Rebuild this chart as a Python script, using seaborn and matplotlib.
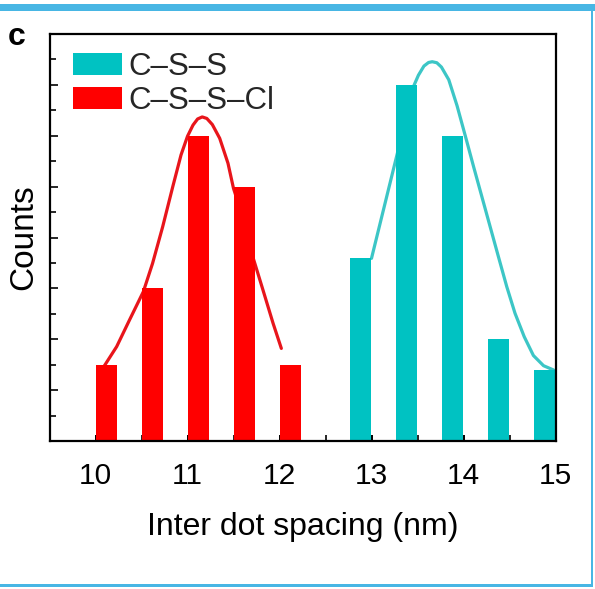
import numpy as np
import matplotlib
matplotlib.use("Agg")
import matplotlib.pyplot as plt
from matplotlib.patches import Patch, Rectangle
from matplotlib.ticker import MultipleLocator
import seaborn as sns

# Histogram bins (nm) and counts for each sample
css_bins = [13.0, 13.5, 14.0, 14.5, 15.0]
css_counts = [7.2, 14.0, 12.0, 4.0, 2.8]
cssc_bins = [10.0, 10.5, 11.0, 11.5, 12.0]
cssc_counts = [3.0, 6.0, 12.0, 10.0, 3.0]

# Fitted distribution curves
css_fit_x = [13.00, 13.29, 13.44, 13.51, 13.57, 13.62, 13.66, 13.71, 13.76, 13.84,
             13.93, 14.02, 14.11, 14.20, 14.29, 14.38, 14.47, 14.56, 14.66, 14.76,
             14.87, 14.98]
css_fit_y = [7.18, 11.44, 13.80, 14.38, 14.74, 14.88, 14.91, 14.87, 14.70, 14.20,
             13.18, 11.99, 10.78, 9.60, 8.42, 7.24, 6.07, 5.02, 4.10, 3.36,
             2.96, 2.79]
cssc_fit_x = [10.09, 10.23, 10.37, 10.52, 10.62, 10.73, 10.84, 10.93, 11.00, 11.06,
              11.11, 11.16, 11.21, 11.27, 11.35, 11.44, 11.50, 11.61, 11.71, 11.82,
              11.93, 12.02]
cssc_fit_y = [2.92, 3.71, 4.76, 5.87, 6.98, 8.42, 10.00, 11.25, 11.98, 12.42,
              12.66, 12.74, 12.68, 12.44, 11.90, 10.92, 9.93, 8.69, 7.24, 5.94,
              4.63, 3.64]

series_labels = ["C\u2013S\u2013S", "C\u2013S\u2013S\u2013Cl"]
xticks = [10, 11, 12, 13, 14, 15]

CYAN_BAR = "#00c2c2"
CYAN_LINE = "#3cc6c6"
RED_BAR = "#ff0000"
RED_LINE = "#e8151b"

sns.set_theme(style="ticks")
plt.rcParams["font.family"] = ["Liberation Sans", "DejaVu Sans"]

fig = plt.figure(figsize=(5.95, 5.89), dpi=100)
ax = fig.add_axes([49.5 / 595, 1 - 441 / 589, 506 / 595, 407 / 589])

bar_w = 0.23
# fitted curves sit behind the bars
sns.lineplot(x=cssc_fit_x, y=cssc_fit_y, color=RED_LINE, lw=2.3, ax=ax, zorder=1)
sns.lineplot(x=css_fit_x, y=css_fit_y, color=CYAN_LINE, lw=2.3, ax=ax, zorder=1)

sns.barplot(x=np.array(cssc_bins) + bar_w / 2, y=cssc_counts, native_scale=True,
            width=bar_w / 0.5, color=RED_BAR, saturation=1, linewidth=0,
            errorbar=None, ax=ax, zorder=2)
sns.barplot(x=np.array(css_bins) - bar_w / 2, y=css_counts, native_scale=True,
            width=bar_w / 0.5, color=CYAN_BAR, saturation=1, linewidth=0,
            errorbar=None, ax=ax, zorder=2)

ax.set_xlim(9.5, 15.0)
ax.set_ylim(0, 16)
ax.set_xticks(xticks)
ax.set_xticklabels([str(t) for t in xticks])
ax.xaxis.set_minor_locator(MultipleLocator(0.5))
ax.yaxis.set_major_locator(MultipleLocator(2))
ax.yaxis.set_minor_locator(MultipleLocator(1))
ax.set_yticklabels([])

for side in ["left", "right", "top", "bottom"]:
    ax.spines[side].set_visible(True)
    ax.spines[side].set_linewidth(1.6)
    ax.spines[side].set_color("black")

ax.tick_params(axis="x", which="major", direction="in", length=4, width=1.4,
               labelsize=21.5, pad=15, colors="black")
ax.tick_params(axis="x", which="minor", direction="in", length=4, width=1.4)
ax.tick_params(axis="y", which="major", direction="in", length=5.5, width=1.4)
ax.tick_params(axis="y", which="minor", direction="in", length=4, width=1.4)

ax.set_xlabel("Inter dot spacing (nm)", fontsize=23, labelpad=16, color="black")
ax.set_ylabel("Counts", fontsize=24, labelpad=4, color="black")

handles = [Patch(facecolor=CYAN_BAR, edgecolor="none"),
           Patch(facecolor=RED_BAR, edgecolor="none")]
ax.legend(handles, series_labels, loc="upper left", bbox_to_anchor=(0.047, 0.957),
          frameon=False, fontsize=22.5, handlelength=1.55, handleheight=0.7,
          handletextpad=0.22, labelspacing=0.15, borderpad=0, borderaxespad=0)

fig.text(8 / 595, 1 - 45 / 589, "c", fontsize=23, fontweight="bold", color="black")

# light blue panel frame
frame = "#48b6e4"
fig.add_artist(Rectangle((0, 1 - 11 / 589), 1, 7 / 589, transform=fig.transFigure,
                         facecolor=frame, edgecolor="none"))
fig.add_artist(Rectangle((590.5 / 595, 2.5 / 589), 2.2 / 595, 576 / 589,
                         transform=fig.transFigure, facecolor=frame, edgecolor="none"))
fig.add_artist(Rectangle((0, 2.5 / 589), 592.7 / 595, 2.5 / 589, transform=fig.transFigure,
                         facecolor=frame, edgecolor="none"))

fig.savefig("out.png", dpi=100, facecolor="white")
